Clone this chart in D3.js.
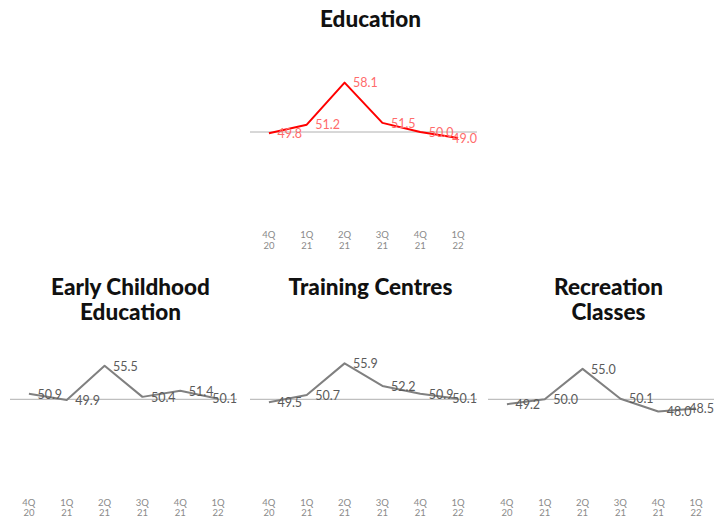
<!DOCTYPE html>
<html>
<head>
<meta charset="utf-8">
<script src="https://cdn.jsdelivr.net/npm/d3@7"></script>
<style>
  body { margin: 0; background: #fff; }
  svg { display: block; }
</style>
</head>
<body>
<svg id="chart"></svg>
<script>
const quarters = ["4Q 20", "1Q 21", "2Q 21", "3Q 21", "4Q 21", "1Q 22"];

const education = [49.8, 51.2, 58.1, 51.5, 50.0, 49.0];
const earlyChildhood = [50.9, 49.9, 55.5, 50.4, 51.4, 50.1];
const trainingCentres = [49.5, 50.7, 55.9, 52.2, 50.9, 50.1];
const recreationClasses = [49.2, 50.0, 55.0, 50.1, 48.0, 48.5];

const width = 714, height = 520;
const svg = d3.select("#chart").attr("width", width).attr("height", height);

// each small chart: position of plot box, title lines, colours
const panels = [
    { title: ["Education"], values: education, x0: 250, y0: 0, line: "#ff0000", label: "#ff6b6b" },
    { title: ["Early Childhood", "Education"], values: earlyChildhood, x0: 10, y0: 267.3, line: "#808080", label: "#5a5a5a" },
    { title: ["Training Centres"], values: trainingCentres, x0: 250, y0: 267.3, line: "#808080", label: "#5a5a5a" },
    { title: ["Recreation", "Classes"], values: recreationClasses, x0: 488, y0: 267.3, line: "#808080", label: "#5a5a5a" }
];

const panelWidth = 227;

panels.forEach(drawPanel);

function drawPanel(p) {
    const g = svg.append("g");
    const right = Math.min(p.x0 + panelWidth, width);

    const x = d3.scalePoint()
        .domain(quarters)
        .range([p.x0, p.x0 + panelWidth])
        .padding(0.5);

    const y = d3.scaleLinear()
        .domain([40, 60])
        .range([p.y0 + 192.9, p.y0 + 71.1]);

    // title
    const titleY = p.y0 === 0 ? 26.5 : p.y0 + 27.7;
    g.append("text")
        .attr("y", titleY)
        .attr("text-anchor", "middle")
        .style("font-family", "Lato, sans-serif")
        .style("font-weight", "900")
        .style("font-size", "22.5px")
        .attr("fill", "#111")
        .selectAll("tspan")
        .data(p.title)
        .enter()
        .append("tspan")
        .attr("x", p.x0 + panelWidth / 2 + 7)
        .attr("dy", (_, i) => i === 0 ? 0 : 25)
        .text(d => d);

    // reference line at 50
    g.append("line")
        .attr("x1", p.x0)
        .attr("x2", p.x0 + panelWidth)
        .attr("y1", y(50))
        .attr("y2", y(50))
        .attr("stroke", "#b0b0b0")
        .attr("stroke-width", 1);

    const line = d3.line()
        .x((_, i) => x(quarters[i]))
        .y(d => y(d));

    g.append("path")
        .datum(p.values)
        .attr("fill", "none")
        .attr("stroke", p.line)
        .attr("stroke-width", 2)
        .attr("stroke-linejoin", "round")
        .attr("d", line);

    // value labels, pushed back inside the panel when they would run past it
    g.selectAll(".val")
        .data(p.values)
        .enter()
        .append("text")
        .attr("class", "val")
        .attr("y", d => y(d) + 4.8)
        .style("font-family", "Lato, sans-serif")
        .style("font-size", "12.5px")
        .attr("fill", p.label)
        .text(d => d.toFixed(1))
        .attr("x", function (_, i) {
            const w = this.getComputedTextLength();
            return Math.min(x(quarters[i]) + 8.5, right - w);
        });

    // x tick labels, two lines each
    const ticks = g.selectAll(".tick")
        .data(quarters)
        .enter()
        .append("text")
        .attr("class", "tick")
        .attr("text-anchor", "middle")
        .style("font-family", "Lato, sans-serif")
        .style("font-size", "9.5px")
        .attr("fill", "#8a8a8a");

    ticks.append("tspan")
        .attr("x", d => x(d))
        .attr("y", p.y0 + 238.3)
        .text(d => d.split(" ")[0]);

    ticks.append("tspan")
        .attr("x", d => x(d))
        .attr("y", p.y0 + 249)
        .text(d => d.split(" ")[1]);
}
</script>
</body>
</html>
